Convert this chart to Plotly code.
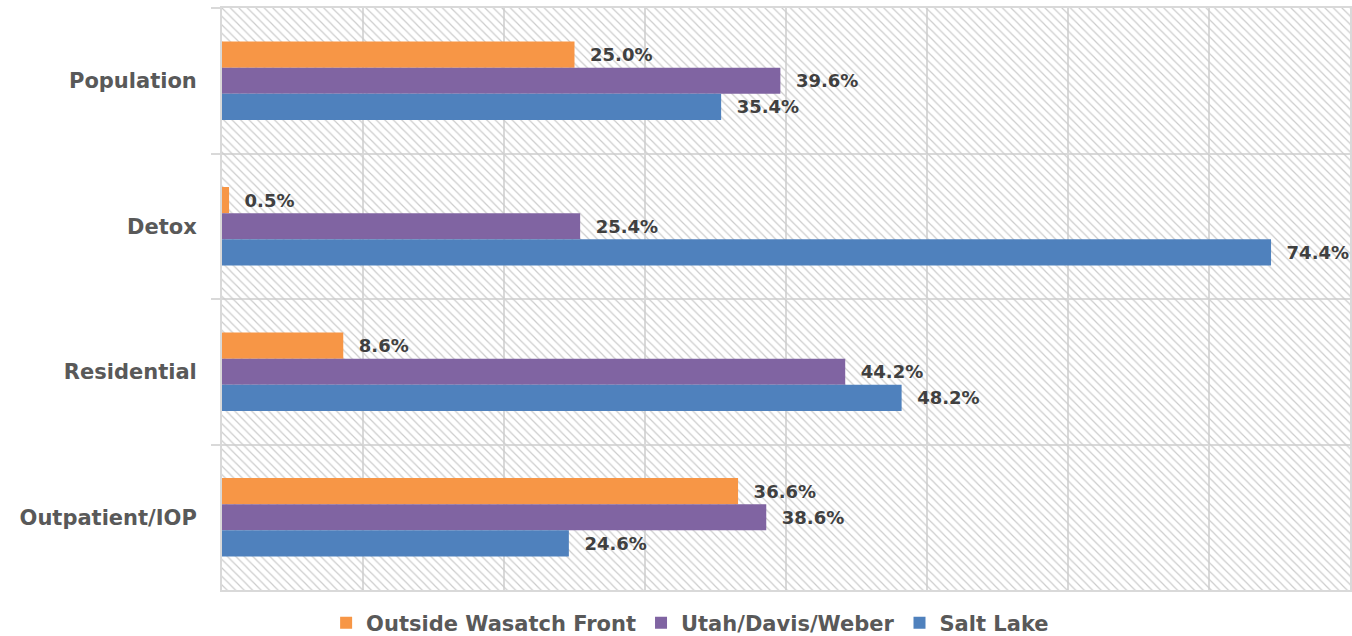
import plotly.graph_objects as go

# Share of admissions by region, per service type (percent)
categories = ["Population", "Detox", "Residential", "Outpatient/IOP"]
series_names = ["Outside Wasatch Front", "Utah/Davis/Weber", "Salt Lake"]
outside_wasatch = [25.0, 0.5, 8.6, 36.6]
utah_davis_weber = [39.6, 25.4, 44.2, 38.6]
salt_lake = [35.4, 74.4, 48.2, 24.6]
x_max = 80

series_values = [outside_wasatch, utah_davis_weber, salt_lake]
colors = ["#F79646", "#8064A2", "#4F81BD"]

LABEL_FONT = "DejaVu Sans"
GRID = "#d9d9d9"
bar_w = 0.18

fig = go.Figure()

# Hatched plot-area background: one transparent bar spanning every category
fig.add_trace(go.Bar(
    y=[categories[0]], x=[x_max], base=0, orientation="h",
    width=len(categories), offset=-0.5,
    marker=dict(color="rgba(0,0,0,0)", line=dict(width=0),
                pattern=dict(shape="\\", fgcolor="#cccccc",
                             bgcolor="rgba(0,0,0,0)", size=6, solidity=0.2,
                             fillmode="replace")),
    showlegend=False, hoverinfo="skip",
))

for i, (name, vals, col) in enumerate(zip(series_names, series_values, colors)):
    fig.add_trace(go.Bar(
        y=categories, x=vals, name=name, orientation="h",
        width=bar_w, offset=-1.5 * bar_w + i * bar_w,
        marker=dict(color=col, line=dict(width=0)),
        text=["\u00a0\u00a0" + f"{v:.1f}%" for v in vals],
        textposition="outside", constraintext="none", cliponaxis=False,
        textfont=dict(family=LABEL_FONT, size=18, color="#404040", weight="bold"),
    ))

fig.update_layout(
    width=1352, height=636,
    margin=dict(l=222, r=2, t=8, b=46, autoexpand=False),
    barmode="overlay",
    plot_bgcolor="white", paper_bgcolor="white",
    showlegend=True,
    legend=dict(orientation="h", x=0.415, xanchor="center", y=-0.057, yanchor="middle",
                font=dict(family=LABEL_FONT, size=21, color="#595959", weight="bold"),
                itemwidth=30, traceorder="normal"),
)

fig.update_xaxes(range=[0, x_max], dtick=10, tick0=0, showgrid=True,
                 gridcolor=GRID, gridwidth=2, showticklabels=False,
                 zeroline=False, showline=True, mirror=True,
                 linecolor=GRID, linewidth=2, ticks="")
fig.update_yaxes(type="category", categoryorder="array", categoryarray=categories,
                 range=[len(categories) - 0.5, -0.5], tickson="boundaries",
                 showgrid=True, gridcolor=GRID, gridwidth=2,
                 ticks="outside", ticklen=9, tickcolor=GRID, tickwidth=2,
                 ticklabelstandoff=19, zeroline=False,
                 showline=True, mirror=True, linecolor=GRID, linewidth=2,
                 tickfont=dict(family=LABEL_FONT, size=21, color="#595959", weight="bold"))

fig.write_html("out.html")
